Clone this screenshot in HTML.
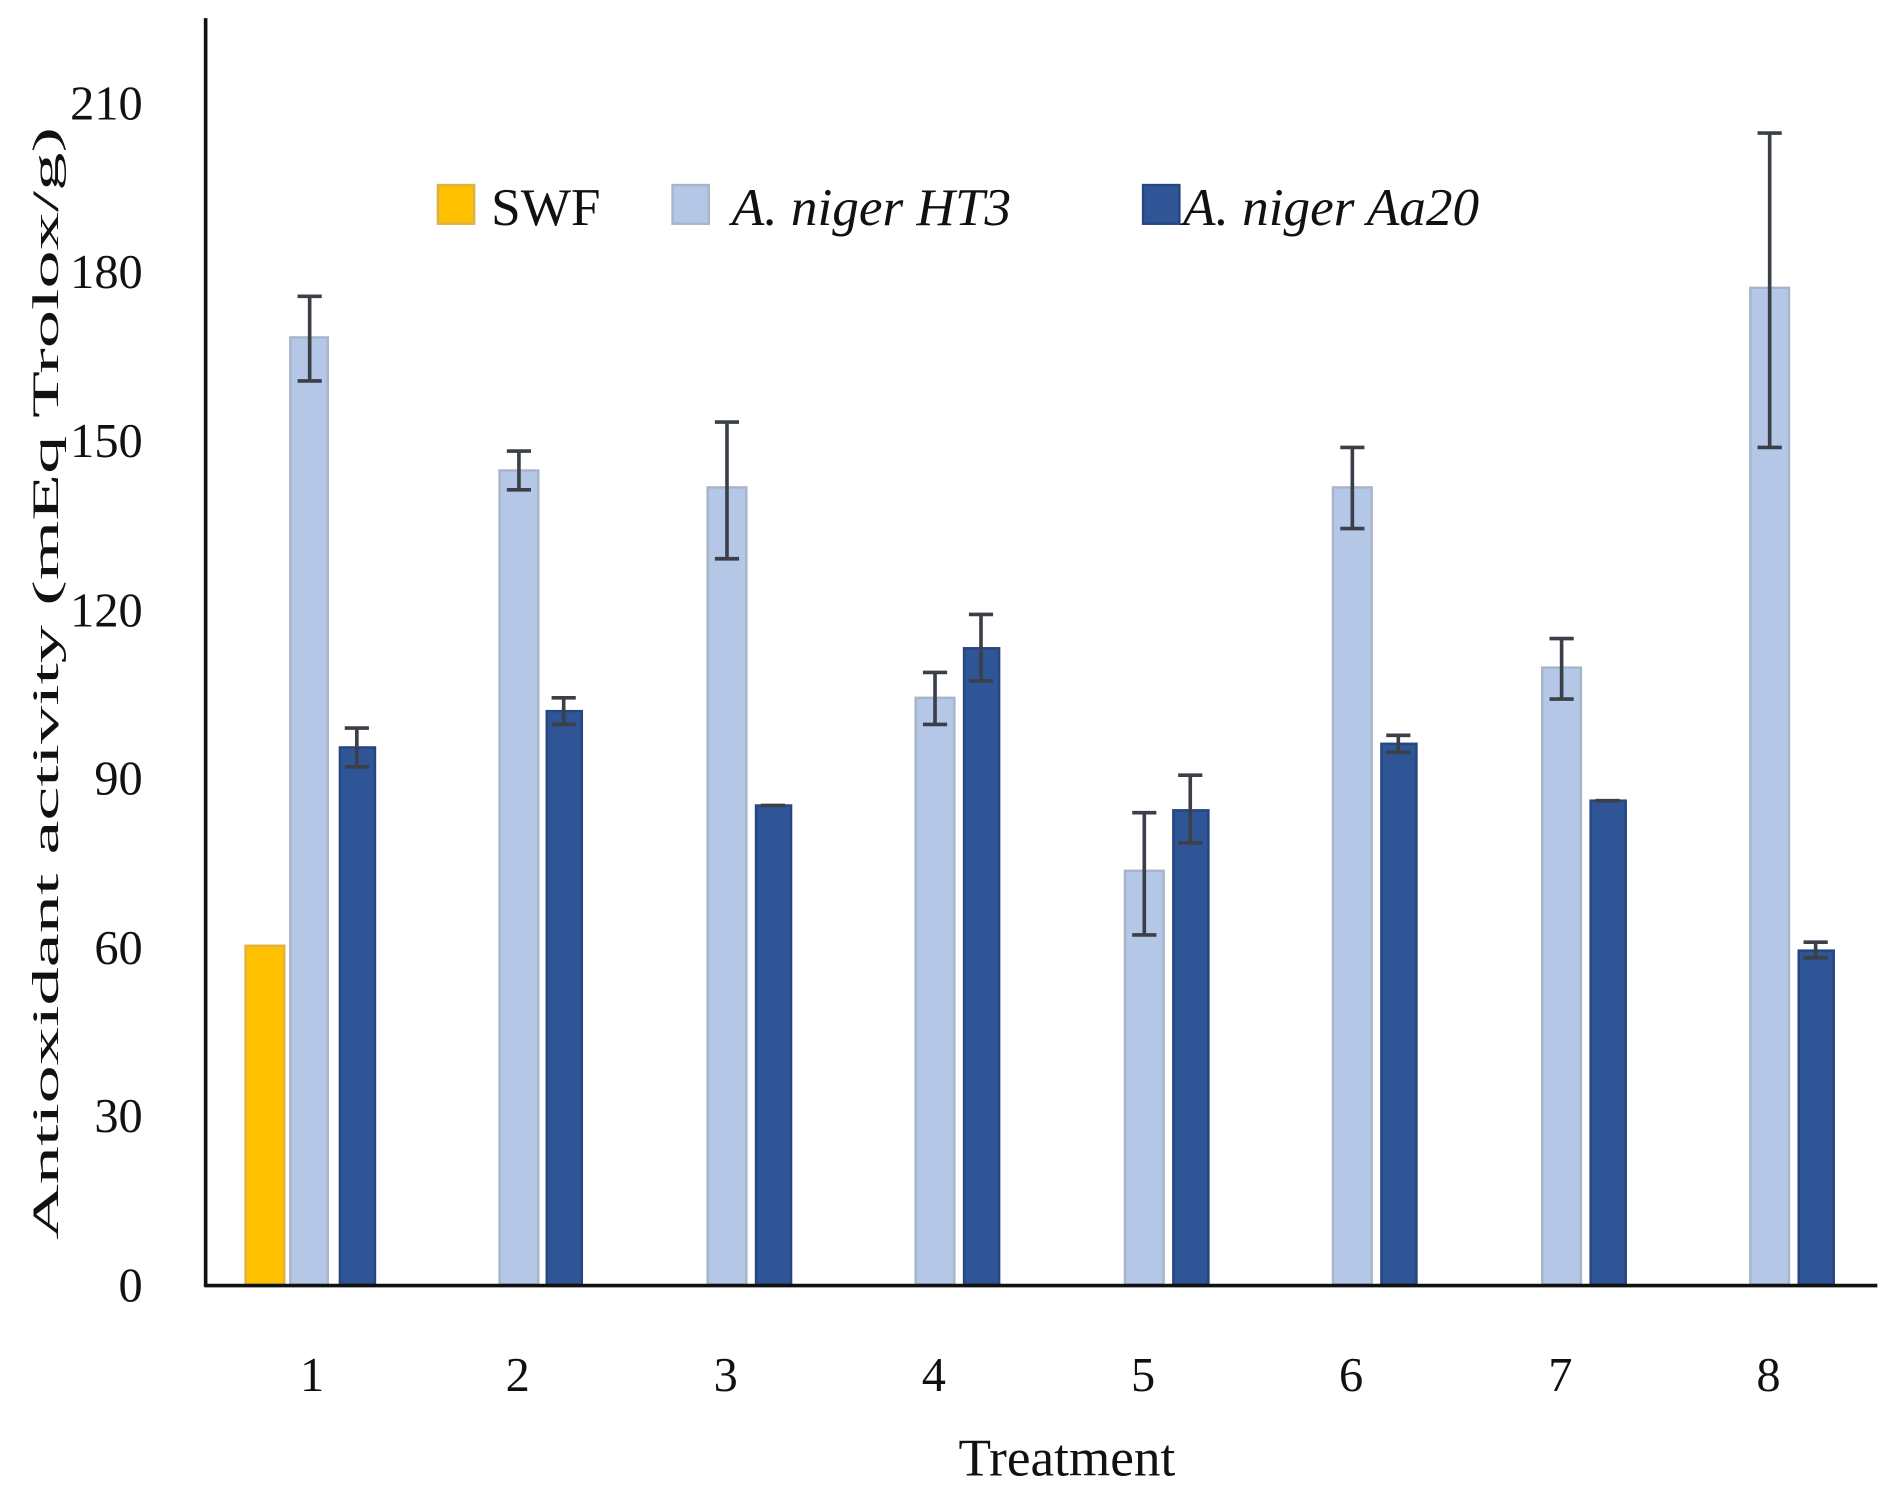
<!DOCTYPE html>
<html><head><meta charset="utf-8"><style>
html,body{margin:0;padding:0;background:#fff;}
svg{display:block;}
text{font-family:"Liberation Serif",serif;fill:#111;}
</style></head><body>
<svg width="1887" height="1490" viewBox="0 0 1560 1232" preserveAspectRatio="none" xmlns="http://www.w3.org/2000/svg">
<rect width="1560" height="1232" fill="#fff"/>
<g font-size="40" text-anchor="end">
<text x="118" y="99">210</text>
<text x="118" y="238">180</text>
<text x="118" y="378">150</text>
<text x="118" y="518">120</text>
<text x="118" y="657">90</text>
<text x="118" y="797">60</text>
<text x="118" y="936">30</text>
<text x="118" y="1076">0</text>
</g>
<text transform="translate(48,565) rotate(-90)" font-size="31" font-weight="normal" text-anchor="middle" textLength="920" lengthAdjust="spacingAndGlyphs">Antioxidant activity (mEq Trolox/g)</text>
<g stroke-width="2">
<rect x="203" y="782" width="32" height="280" fill="#FFC000" stroke="#e0b040"/>
<g fill="#B4C7E7" stroke="#a8b4c8">
<rect x="240" y="279" width="31" height="783"/>
<rect x="413" y="389" width="32" height="673"/>
<rect x="585" y="403" width="32" height="659"/>
<rect x="757" y="577" width="32" height="485"/>
<rect x="930" y="720" width="32" height="342"/>
<rect x="1102" y="403" width="32" height="659"/>
<rect x="1275" y="552" width="32" height="510"/>
<rect x="1447" y="238" width="32" height="824"/>
</g>
<g fill="#2F5597" stroke="#26467f">
<rect x="281" y="618" width="29" height="444"/>
<rect x="452" y="588" width="29" height="474"/>
<rect x="625" y="666" width="29" height="396"/>
<rect x="797" y="536" width="29" height="526"/>
<rect x="970" y="670" width="29" height="392"/>
<rect x="1142" y="615" width="29" height="447"/>
<rect x="1315" y="662" width="29" height="400"/>
<rect x="1487" y="786" width="29" height="276"/>
</g>
</g>
<g stroke="#3a3f48" stroke-width="3" fill="none">
<path d="M256 245V315M246 245H266M246 315H266"/>
<path d="M295 602V634M285 602H305M285 634H305"/>
<path d="M429 373V405M419 373H439M419 405H439"/>
<path d="M466 577V599M456 577H476M456 599H476"/>
<path d="M601 349V462M591 349H611M591 462H611"/>
<path d="M639 665V667M629 666H649"/>
<path d="M773 556V599M763 556H783M763 599H783"/>
<path d="M811 508V563M801 508H821M801 563H821"/>
<path d="M946 672V773M936 672H956M936 773H956"/>
<path d="M984 641V697M974 641H994M974 697H994"/>
<path d="M1118 370V437M1108 370H1128M1108 437H1128"/>
<path d="M1156 608V622M1146 608H1166M1146 622H1166"/>
<path d="M1291 528V578M1281 528H1301M1281 578H1301"/>
<path d="M1329 661V664M1319 662H1339"/>
<path d="M1463 110V370M1453 110H1473M1453 370H1473"/>
<path d="M1501 779V792M1491 779H1511M1491 792H1511"/>
</g>
<line x1="170" y1="15" x2="170" y2="1064" stroke="#111" stroke-width="3"/>
<line x1="169" y1="1063" x2="1552" y2="1063" stroke="#111" stroke-width="3"/>
<g font-size="40" text-anchor="middle">
<text x="258" y="1150">1</text>
<text x="428" y="1150">2</text>
<text x="600" y="1150">3</text>
<text x="772" y="1150">4</text>
<text x="945" y="1150">5</text>
<text x="1117" y="1150">6</text>
<text x="1290" y="1150">7</text>
<text x="1462" y="1150">8</text>
</g>
<text x="882" y="1220" font-size="44" text-anchor="middle">Treatment</text>
<rect x="362" y="153" width="30" height="32" fill="#FFC000" stroke="#d9b24a" stroke-width="2"/>
<text x="406" y="186" font-size="44">SWF</text>
<rect x="556" y="153" width="30" height="32" fill="#B4C7E7" stroke="#a8b4c8" stroke-width="2"/>
<text x="605" y="186" font-size="44" font-style="italic">A. niger HT3</text>
<rect x="945" y="153" width="30" height="32" fill="#2F5597" stroke="#26467f" stroke-width="2"/>
<text x="978" y="186" font-size="44" font-style="italic">A. niger Aa20</text>
</svg>
</body></html>
